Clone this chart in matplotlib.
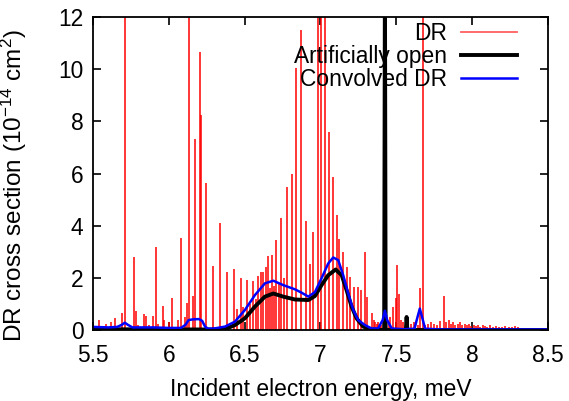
import matplotlib
matplotlib.use("Agg")
import matplotlib.pyplot as plt

plt.rcParams['font.family'] = ['Liberation Sans', 'DejaVu Sans']
plt.rcParams['mathtext.fontset'] = 'custom'
plt.rcParams['mathtext.rm'] = 'Liberation Sans'
plt.rcParams['mathtext.it'] = 'Liberation Sans'

# DR resonances: energy (meV) and peak height (1e-14 cm^2); 14 = goes off the top
dr_energy = [5.507, 5.54, 5.586, 5.62, 5.643, 5.69, 5.711, 5.768, 5.781, 5.80,
             5.834, 5.847, 5.87, 5.896, 5.913, 5.93, 5.959, 5.97, 5.999, 6.019,
             6.06, 6.078, 6.108, 6.118, 6.131, 6.161, 6.17, 6.205, 6.212, 6.243,
             6.291, 6.337, 6.385, 6.43, 6.45, 6.473, 6.49, 6.515, 6.535, 6.557,
             6.575, 6.59, 6.607, 6.623, 6.638, 6.651, 6.665, 6.682, 6.695, 6.71,
             6.727, 6.743, 6.76, 6.777, 6.81, 6.838, 6.871, 6.904, 6.93, 6.952,
             6.985, 7.005, 7.03, 7.056, 7.08, 7.106, 7.122, 7.15, 7.172, 7.194,
             7.222, 7.245, 7.267, 7.293, 7.31, 7.337, 7.35, 7.36, 7.37, 7.38,
             7.39, 7.40, 7.45, 7.46, 7.48, 7.497, 7.504, 7.517, 7.53, 7.545,
             7.58, 7.60, 7.62, 7.64, 7.655, 7.673, 7.69, 7.71, 7.73, 7.75,
             7.77, 7.79, 7.814, 7.83, 7.845, 7.86, 7.875, 7.89, 7.905, 7.92,
             7.935, 7.95, 7.965, 7.98, 7.995, 8.01, 8.025, 8.04, 8.055, 8.07,
             8.085, 8.10, 8.12, 8.14, 8.16, 8.18, 8.20, 8.22, 8.24, 8.26,
             8.28, 8.30]
dr_height = [0.15, 0.38, 0.23, 0.32, 0.47, 0.66, 14, 2.81, 0.73, 0.19,
             0.6, 0.54, 0.2, 0.54, 3.19, 0.25, 0.92, 0.38, 0.32, 1.24,
             0.38, 3.54, 0.51, 1.02, 14, 1.3, 7.32, 10.66, 8.24, 5.64,
             2.45, 4.09, 2.23, 2.33, 0.8, 2.0, 0.9, 1.92, 1.0, 1.88,
             1.2, 2.07, 2.23, 2.23, 2.43, 2.83, 1.6, 2.87, 1.7, 3.45,
             1.8, 4.28, 2.0, 5.5, 5.98, 10.05, 11.5, 4.19, 2.55, 3.77,
             14, 14, 14, 7.6, 5.85, 4.4, 3.5, 3.0, 2.43, 2.04,
             1.66, 1.66, 1.53, 3.0, 1.28, 0.65, 0.4, 0.3, 0.25, 0.3,
             0.2, 0.2, 0.3, 0.5, 0.9, 1.22, 2.49, 1.4, 0.4, 0.3,
             0.15, 0.25, 0.3, 0.2, 1.6, 14, 0.2, 0.25, 0.3, 0.25,
             0.2, 0.35, 1.3, 0.3, 0.4, 0.25, 0.3, 0.2, 0.25, 0.3,
             0.2, 0.22, 0.18, 0.25, 0.15, 0.2, 0.15, 0.18, 0.12, 0.2,
             0.15, 0.12, 0.18, 0.1, 0.15, 0.12, 0.1, 0.15, 0.1, 0.12,
             0.15, 0.1]

# artificially open channel
open_energy = [5.5, 6.3, 6.37, 6.436, 6.502, 6.568, 6.634, 6.689, 6.755, 6.832,
               6.92, 6.963, 7.007, 7.051, 7.1, 7.14, 7.172, 7.205, 7.238, 7.282,
               7.337, 7.42, 7.425, 7.43, 7.563, 7.568, 7.573, 8.5]
open_sigma = [0.03, 0.02, 0.03, 0.19, 0.45, 0.9, 1.28, 1.4, 1.28, 1.17,
              1.15, 1.3, 1.72, 2.1, 2.32, 2.1, 1.53, 0.9, 0.45, 0.13,
              0.02, 0.0, 14, 0.0, 0.0, 0.5, 0.0, 0.0]

# convolved DR
conv_energy = [5.5, 5.6, 5.66, 5.69, 5.71, 5.73, 5.76, 5.9, 6.0, 6.08,
               6.11, 6.13, 6.16, 6.2, 6.22, 6.24, 6.26, 6.3, 6.37, 6.436,
               6.502, 6.568, 6.634, 6.689, 6.755, 6.832, 6.876, 6.92, 6.963, 7.007,
               7.051, 7.084, 7.117, 7.15, 7.183, 7.216, 7.249, 7.293, 7.337, 7.38,
               7.41, 7.425, 7.44, 7.47, 7.55, 7.62, 7.64, 7.655, 7.67, 7.69,
               7.8, 8.5]
conv_sigma = [0.12, 0.1, 0.12, 0.2, 0.28, 0.2, 0.1, 0.1, 0.08, 0.08,
              0.2, 0.38, 0.41, 0.42, 0.35, 0.12, 0.05, 0.06, 0.13, 0.32,
              0.77, 1.34, 1.79, 1.89, 1.72, 1.56, 1.43, 1.28, 1.45, 1.98,
              2.55, 2.78, 2.68, 2.1, 1.4, 0.77, 0.38, 0.19, 0.06, 0.06,
              0.38, 0.74, 0.38, 0.06, 0.03, 0.05, 0.5, 0.82, 0.5, 0.05,
              0.02, 0.02]

fs = 16.4

fig = plt.figure(figsize=(5.69, 4.01), dpi=100)
ax = fig.add_axes([0.1634, 0.177, 0.7996, 0.7806])

ax.vlines(dr_energy, 0, dr_height, color='red', lw=1.1)
ax.plot([], [], color='#ff6060', lw=1.3, label='DR')
ax.plot(open_energy, open_sigma, color='black', lw=2.8, label='Artificially open')
ax.plot(conv_energy, conv_sigma, color='blue', lw=1.8, label='Convolved DR')

ax.set_xlim(5.5, 8.5)
ax.set_ylim(0, 12)
ax.set_xticks([5.5, 6, 6.5, 7, 7.5, 8, 8.5])
ax.set_xticklabels(['5.5', '6', '6.5', '7', '7.5', '8', '8.5'])
ax.set_yticks([0, 2, 4, 6, 8, 10, 12])
ax.tick_params(direction='in', top=True, right=True, length=6, width=1.2,
               labelsize=fs)
ax.tick_params(axis='x', pad=10)
ax.tick_params(axis='y', pad=7)
for s in ax.spines.values():
    s.set_linewidth(1.3)

ax.set_xlabel('Incident electron energy, meV', fontsize=fs, labelpad=8)
ax.set_ylabel('DR cross section (10$^{-14}$ cm$^{2}$)', fontsize=17.5)
ax.yaxis.set_label_coords(-0.14, 0.462)

ax.legend(loc='upper right', bbox_to_anchor=(0.958, 1.022), frameon=False,
          markerfirst=False, fontsize=fs, handlelength=2.5,
          handletextpad=0.6, labelspacing=0.0, borderaxespad=0.1)

fig.savefig('out.png', dpi=100)
